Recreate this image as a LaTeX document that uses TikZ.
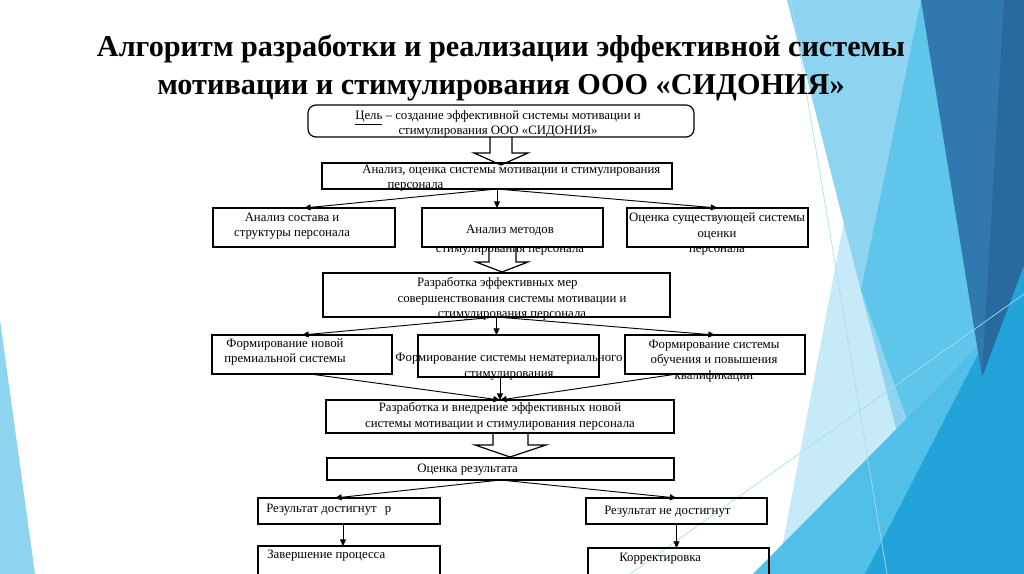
\documentclass[tikz,border=0pt]{standalone}
\usepackage{fontspec}
\setmainfont{Liberation Serif}
\usetikzlibrary{arrows.meta}
\definecolor{bgpale}{HTML}{C7EAF8}
\definecolor{bglight}{HTML}{8ED4F1}
\definecolor{bgmid}{HTML}{5FC5EB}
\definecolor{bgsoft}{HTML}{52BFE9}
\definecolor{bgbright}{HTML}{22A4DB}
\definecolor{bgdark}{HTML}{3178AE}
\definecolor{bgdeep}{HTML}{286A9E}
\definecolor{bgline}{HTML}{A5DDF4}
\tikzset{
  algbox/.style 2 args={draw, line width=0.9pt, minimum width=#1*0.75pt,
    minimum height=#2*0.75pt, inner sep=0pt, outer sep=0pt},
  algtext/.style={font=\fontsize{9.6}{11.6}\selectfont, align=center, inner sep=0pt},
  algarrow/.style={-{Triangle[length=5pt,width=4.5pt]}, line width=0.7pt},
  algfat/.style={line width=0.9pt, line join=miter},
  algtitle/.style={font=\bfseries\fontsize{22.7}{28.5}\selectfont, align=center},
}

\begin{document}
\begin{tikzpicture}[x=0.75pt, y=-0.75pt]
  \useasboundingbox (0,0) rectangle (1024,574);
  \clip (0,0) rectangle (1024,574);
  % фон справа и слева
  \fill[bgpale] (886,0) -- (1024,0) -- (1024,574) -- (777,574) -- cycle;
  \fill[bglight] (787,0) -- (1024,0) -- (1024,574) -- (933,574) -- cycle;
  \fill[bgmid] (921,0) -- (982,377) -- (925,470) -- (861,290) -- cycle;
  \fill[bgsoft] (753,574) -- (1024,300) -- (1024,574) -- cycle;
  \fill[bgbright] (865,574) -- (1024,265) -- (1024,574) -- cycle;
  \fill[bgdark] (921,0) -- (1024,0) -- (1024,265) -- (982,377) -- cycle;
  \fill[bgdeep] (1004,0) -- (1024,0) -- (1024,265) -- (982,377) -- cycle;
  \draw[bgline, line width=0.5pt] (791,0) -- (887,574);
  \draw[bgline, line width=0.5pt] (630,574) -- (1024,294);
  \fill[bglight] (0,320) -- (35,574) -- (0,574) -- cycle;

  % заголовок
  \node[algtitle] (title) at (501,68) {Алгоритм разработки и реализации эффективной системы\\мотивации и стимулирования ООО «СИДОНИЯ»};

  % блоки
  \node[algbox={386}{32}, rounded corners=6pt] (goal) at (501,121) {};
  \node[algbox={350}{26}] (anal) at (497,176) {};
  \node[algbox={182}{39}] (sost) at (304,227.5) {};
  \node[algbox={181}{39}] (meth) at (512.5,227.5) {};
  \node[algbox={181}{39}] (ocen) at (717.5,227.5) {};
  \node[algbox={347}{44}] (razr) at (496.5,295) {};
  \node[algbox={180}{39}] (prem) at (302,354.5) {};
  \node[algbox={181}{42}] (nemat) at (508.5,356) {};
  \node[algbox={180}{39}] (obuch) at (715,354.5) {};
  \node[algbox={348}{33}] (vnedr) at (500,416.5) {};
  \node[algbox={347}{22}] (otsen) at (500.5,469) {};
  \node[algbox={182}{26}] (dost) at (349,511) {};
  \node[algbox={181}{26}] (nedost) at (676.5,511) {};
  \node[algbox={182}{44}] (zaver) at (349,568) {};
  \node[algbox={181}{42}] (korr) at (678.5,569) {};

  % тексты блоков
  \node[algtext] (goal-t) at (498,124) {\underline{Цель} – создание эффективной системы мотивации и\\стимулирования ООО «СИДОНИЯ»};
  \node[algtext, align=left, anchor=west, font=\fontsize{9.6}{11}\selectfont] (anal-t) at (362,178) {Анализ, оценка системы мотивации и стимулирования\\\hspace*{19pt}персонала};
  \node[algtext] (sost-t) at (292,226) {Анализ состава и\\структуры персонала};
  \node[algtext] (meth-t) at (510,240) {Анализ методов\\[3pt]стимулирования персонала};
  \node[algtext] (ocen-t) at (717,234) {Оценка существующей системы\\оценки\\персонала};
  \node[algtext] (razr-t) at (512,299) {Разработка эффективных мер\hspace*{22pt}\mbox{}\\совершенствования системы мотивации и\\стимулирования персонала};
  \node[algtext] (prem-t) at (285,352) {Формирование новой\\премиальной системы};
  \node[algtext] (nemat-t) at (509,366.5) {Формирование системы нематериального\\стимулирования};
  \node[algtext] (obuch-t) at (714,361) {Формирование системы\\обучения и повышения\\квалификации};
  \node[algtext] (vnedr-t) at (500,416.5) {Разработка и внедрение эффективных новой\\системы мотивации и стимулирования персонала};
  \node[algtext, anchor=west] (otsen-t) at (417,470) {Оценка результата};
  \node[algtext, anchor=west] (dost-t) at (266,510) {Результат достигнут\hspace{6pt}р};
  \node[algtext, anchor=west] (nedost-t) at (604,512) {Результат не достигнут};
  \node[algtext, anchor=west] (zaver-t) at (267,556) {Завершение процесса};
  \node[algtext, anchor=west] (korr-t) at (619,559) {Корректировка};

  % полые стрелки
  \draw[algfat] ([shift={(-11,0)}]goal.south) -- ++(0,16) -- ++(-16,0) -- ++(27,12) -- ++(27,-12) -- ++(-16,0) -- ++(0,-16);
  \draw[algfat] ([shift={(-23.5,0)}]meth.south) -- ++(0,15) -- ++(-13,0) -- ++(26,10) -- ++(26,-10) -- ++(-12,0) -- ++(0,-15);
  \draw[algfat] ([shift={(-7,0)}]vnedr.south) -- ++(0,12) -- ++(-18,0) -- ++(35,12) -- ++(36,-12) -- ++(-18,0) -- ++(0,-12);

  % стрелки
  \draw[algarrow] (anal.south) -- (sost.north);
  \draw[algarrow] (anal.south) -- (anal.south |- meth.north);
  \draw[algarrow] (anal.south) -- (ocen.north);
  \draw[algarrow] (razr.south) -- (prem.north);
  \draw[algarrow] (razr.south) -- (razr.south |- nemat.north);
  \draw[algarrow] (razr.south) -- (obuch.north);
  \draw[algarrow] ([shift={(8,0)}]prem.south) -- (vnedr.north);
  \draw[algarrow] (vnedr.north |- nemat.south) -- (vnedr.north);
  \draw[algarrow] ([shift={(-38,0)}]obuch.south) -- (vnedr.north);
  \draw[algarrow] (otsen.south) -- ([shift={(-14,0)}]dost.north);
  \draw[algarrow] (otsen.south) -- (nedost.north);
  \draw[algarrow] ([shift={(-6,0)}]dost.south) -- ([shift={(-6,0)}]zaver.north);
  \draw[algarrow] (nedost.south) -- (nedost.south |- korr.north);
\end{tikzpicture}
\end{document}
